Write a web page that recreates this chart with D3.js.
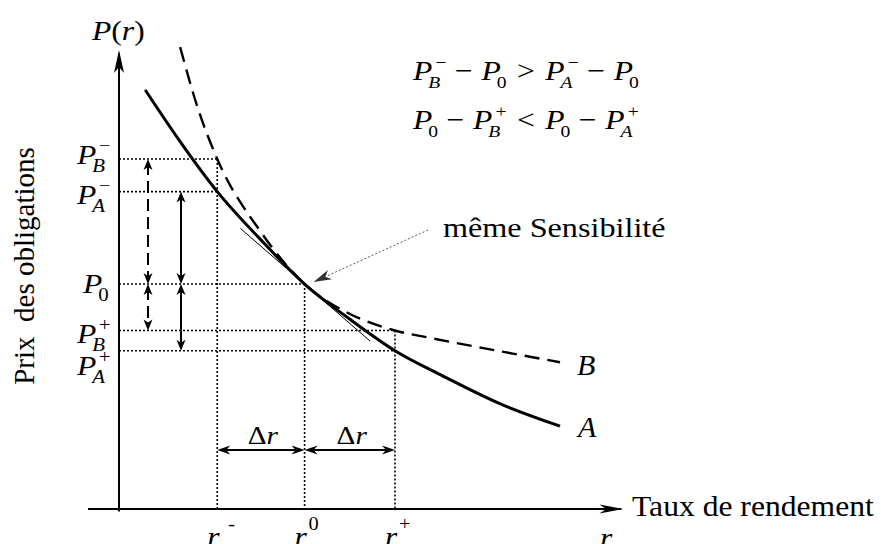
<!DOCTYPE html>
<html>
<head>
<meta charset="utf-8">
<script src="https://cdn.jsdelivr.net/npm/d3@7"></script>
<style>
  html, body { margin: 0; padding: 0; background: #fff; }
  svg { display: block; }
  text { font-family: "Liberation Serif", "Times New Roman", serif; fill: #000; }
</style>
</head>
<body>
<svg id="chart" width="881" height="544" font-family="Liberation Serif, Times New Roman, serif"></svg>
<script>
// Yield levels on the rate axis: r-, r0, r+
const rateValues = [2.25, 4.25, 6.32];
const rateSups = ["-", "0", "+"];

// Price levels read on the price axis: P_B-, P_A-, P_0, P_B+, P_A+
const priceValues = [76.1, 69.0, 48.9, 38.8, 34.4];
const priceSubs = ["B", "A", "0", "B", "A"];
const priceSups = ["\u2212", "\u2212", "", "+", "+"];
// rate index at which each price level is reached
const priceRateIdx = [0, 0, 1, 2, 2];

// Bond A (lower convexity) price/yield curve
const bondA = [
  [0.60, 91.1], [1.42, 79.6], [2.25, 69.0], [3.25, 58.5], [4.25, 48.9],
  [5.28, 41.3], [6.32, 34.4], [7.42, 28.9], [8.72, 22.9], [10.10, 18.0]
];
// Bond B (higher convexity) price/yield curve
const bondB = [
  [1.40, 100.4], [1.81, 87.0], [2.25, 76.1], [3.25, 60.2], [4.25, 48.9],
  [5.29, 42.4], [6.32, 38.8], [7.12, 37.2], [8.73, 34.3], [10.10, 31.9]
];
// Common tangent at r0 (same duration)
const tangentLine = [[2.78, 61.0], [5.75, 36.5]];

const svg = d3.select("#chart");
const x = d3.scaleLinear().domain([0, 12]).range([119, 643]);
const y = d3.scaleLinear().domain([0, 100]).range([509, 49]);
const SX = 1.13; // horizontal widening of the serif glyphs

// ---------- helpers ----------
function head(g, px, py, ang, len, hw, notch, fill) {
  const c = Math.cos(ang), s = Math.sin(ang);
  const p = (a, b) => [px + a * c - b * s, py + a * s + b * c];
  const pts = [p(0, 0), p(-len, hw), p(-len + notch, 0), p(-len, -hw)];
  g.append("path").attr("d", "M" + pts.map(q => q.join(",")).join("L") + "Z")
    .attr("fill", fill || "#000").attr("stroke", "none");
}

function plain(g, px, py, str, size, italic, sx) {
  return g.append("text")
    .attr("transform", `translate(${px},${py}) scale(${sx || SX},1)`)
    .style("font-size", size + "px")
    .style("font-style", italic ? "italic" : "normal")
    .text(str);
}

// items: {t, it, sub, subIt, sup, pre, post}
function mathRow(parent, px, py, items, size, ratio, supShift) {
  const g = parent.append("g").attr("transform", `translate(${px},${py}) scale(${SX},1)`);
  const small = size * (ratio || 0.66);
  const sh = supShift === undefined ? 0.1 : supShift;
  let cx = 0;
  items.forEach(d => {
    cx += (d.pre || 0) * size;
    const t = g.append("text").attr("x", cx).attr("y", 0)
      .style("font-size", size + "px")
      .style("font-style", d.it ? "italic" : "normal").text(d.t);
    const w = t.node().getComputedTextLength();
    let adv = w;
    if (d.sub || d.sup) {
      let ext = 0;
      if (d.sub) {
        const sx0 = cx + w - (d.it ? size * 0.13 : 0);
        const s = g.append("text").attr("x", sx0).attr("y", size * 0.3)
          .style("font-size", small + "px")
          .style("font-style", d.subIt ? "italic" : "normal").text(d.sub);
        ext = Math.max(ext, sx0 + s.node().getComputedTextLength() - cx);
      }
      if (d.sup) {
        const sx1 = cx + w + size * sh;
        const s = g.append("text").attr("x", sx1).attr("y", -size * 0.42)
          .style("font-size", small + "px").style("font-style", "normal").text(d.sup);
        ext = Math.max(ext, sx1 + s.node().getComputedTextLength() - cx);
      }
      adv = Math.max(w, ext);
    }
    cx += adv + (d.post || 0) * size;
  });
  return g;
}

// ---------- dotted guides ----------
const guides = svg.append("g").attr("fill", "none").attr("stroke", "#000")
  .attr("stroke-width", 1.6).attr("stroke-dasharray", "2,2");
priceValues.forEach((p, i) => {
  guides.append("line").attr("x1", x(0)).attr("x2", x(rateValues[priceRateIdx[i]]))
    .attr("y1", y(p)).attr("y2", y(p));
});
rateValues.forEach((r, i) => {
  const top = d3.max(priceValues.filter((p, k) => priceRateIdx[k] === i));
  guides.append("line").attr("x1", x(r)).attr("x2", x(r))
    .attr("y1", y(top)).attr("y2", y(0));
});

// ---------- curves ----------
const line = d3.line().x(d => x(d[0])).y(d => y(d[1])).curve(d3.curveMonotoneX);
svg.append("path").datum(tangentLine).attr("d", d3.line().x(d => x(d[0])).y(d => y(d[1])))
  .attr("fill", "none").attr("stroke", "#000").attr("stroke-width", 1);
svg.append("path").datum(bondB).attr("d", line)
  .attr("fill", "none").attr("stroke", "#000").attr("stroke-width", 2.4)
  .attr("stroke-dasharray", "15,8");
svg.append("path").datum(bondA).attr("d", line)
  .attr("fill", "none").attr("stroke", "#000").attr("stroke-width", 3);

// ---------- axes ----------
const axes = svg.append("g");
axes.append("line").attr("x1", x(-0.71)).attr("x2", x(11.5)).attr("y1", y(0)).attr("y2", y(0))
  .attr("stroke", "#000").attr("stroke-width", 2);
axes.append("line").attr("x1", x(0)).attr("x2", x(0)).attr("y1", y(-0.52)).attr("y2", y(99))
  .attr("stroke", "#000").attr("stroke-width", 2);
head(axes, x(11.55), y(0), 0, 24, 4.5, 7);
head(axes, x(0), y(99.8), -Math.PI / 2, 23, 5, 6);

// ---------- double arrows between price levels ----------
function vArrow(g, px, p1, p2, dashed) {
  const y1 = y(p1), y2 = y(p2);
  g.append("line").attr("x1", px).attr("x2", px).attr("y1", y1 + 4).attr("y2", y2 - 4)
    .attr("stroke", "#000").attr("stroke-width", 2)
    .attr("stroke-dasharray", dashed ? "12,6" : null);
  head(g, px, y1, -Math.PI / 2, 11, 4.5, 3);
  head(g, px, y2, Math.PI / 2, 11, 4.5, 3);
}
const arr = svg.append("g");
const dashX = x(0) + 29, solidX = x(0) + 62;
vArrow(arr, dashX, priceValues[0], priceValues[2], true);
vArrow(arr, dashX, priceValues[2], priceValues[3], true);
vArrow(arr, solidX, priceValues[1], priceValues[2], false);
vArrow(arr, solidX, priceValues[2], priceValues[4], false);

// ---------- Δr arrows ----------
const drY = 450;
for (let i = 0; i < 2; i++) {
  const xa = x(rateValues[i]), xb = x(rateValues[i + 1]);
  arr.append("line").attr("x1", xa + 4).attr("x2", xb - 4).attr("y1", drY).attr("y2", drY)
    .attr("stroke", "#000").attr("stroke-width", 2);
  head(arr, xa, drY, Math.PI, 13, 4.5, 4);
  head(arr, xb, drY, 0, 13, 4.5, 4);
  const g = svg.append("g");
  const lab = mathRow(g, 0, 0, [{ t: "\u0394" }, { t: "r", it: true }], 26);
  const w = lab.node().getBBox().width * SX;
  lab.attr("transform", `translate(${(xa + xb) / 2 - w / 2 + 2},${444}) scale(${SX},1)`);
}

// ---------- "même Sensibilité" pointer ----------
const tipX = x(rateValues[1]) + 9, tipY = y(priceValues[2]) - 2;
const ang = Math.atan2(tipY - 230, tipX - 428);
svg.append("line").attr("x1", 428).attr("y1", 230)
  .attr("x2", tipX - 14 * Math.cos(ang)).attr("y2", tipY - 14 * Math.sin(ang))
  .attr("stroke", "#555").attr("stroke-width", 1).attr("stroke-dasharray", "2,2");
head(svg, tipX, tipY, ang, 18, 5, 5, "#333");
plain(svg, 443, 237, "même Sensibilité", 28, false, 1.15);

// ---------- labels ----------
const T = svg.append("g");
// price-axis title
T.append("text").attr("transform", "translate(34,266) rotate(-90)")
  .attr("text-anchor", "middle").style("font-size", "29px")
  .text("Prix\u00a0\u00a0des obligations");

// P(r)
mathRow(T, 92, 40, [{ t: "P", it: true }, { t: "(" }, { t: "r", it: true }, { t: ")" }], 28);

// price level labels
const priceLabelX = [77, 77, 83, 77, 77];
const priceLabelDy = [5, 12, 9, 12, 24];
priceValues.forEach((p, i) => {
  mathRow(T, priceLabelX[i], y(p) + priceLabelDy[i], [{
    t: "P", it: true, sub: priceSubs[i], subIt: priceSubs[i] !== "0", sup: priceSups[i]
  }], 28, 0.66, 0.08);
});

// rate labels under the axis
rateValues.forEach((r, i) => {
  plain(T, x(r) - 10, 546, "r", 28, true);
  plain(T, x(r) + (i === 0 ? 11 : 4), 530, rateSups[i], 18, false);
});
plain(T, 600, 547, "r", 28, true);
plain(T, 632, 516, "Taux de rendement", 29, false, 1.09);

// curve names
plain(T, 577, 375, "B", 30, true, 1.0);
plain(T, 578, 437, "A", 30, true, 1.0);

// convexity inequalities
const opM = 0.27, opR = 0.33;
mathRow(T, 413, 80, [
  { t: "P", it: true, sub: "B", subIt: true, sup: "\u2212" },
  { t: "\u2212", pre: opM, post: opM },
  { t: "P", it: true, sub: "0" },
  { t: ">", pre: opR, post: opR },
  { t: "P", it: true, sub: "A", subIt: true, sup: "\u2212" },
  { t: "\u2212", pre: opM, post: opM },
  { t: "P", it: true, sub: "0" }
], 28, 0.62);
mathRow(T, 413, 129, [
  { t: "P", it: true, sub: "0" },
  { t: "\u2212", pre: opM, post: opM },
  { t: "P", it: true, sub: "B", subIt: true, sup: "+" },
  { t: "<", pre: opR, post: opR },
  { t: "P", it: true, sub: "0" },
  { t: "\u2212", pre: opM, post: opM },
  { t: "P", it: true, sub: "A", subIt: true, sup: "+" }
], 28, 0.62);
</script>
</body>
</html>
